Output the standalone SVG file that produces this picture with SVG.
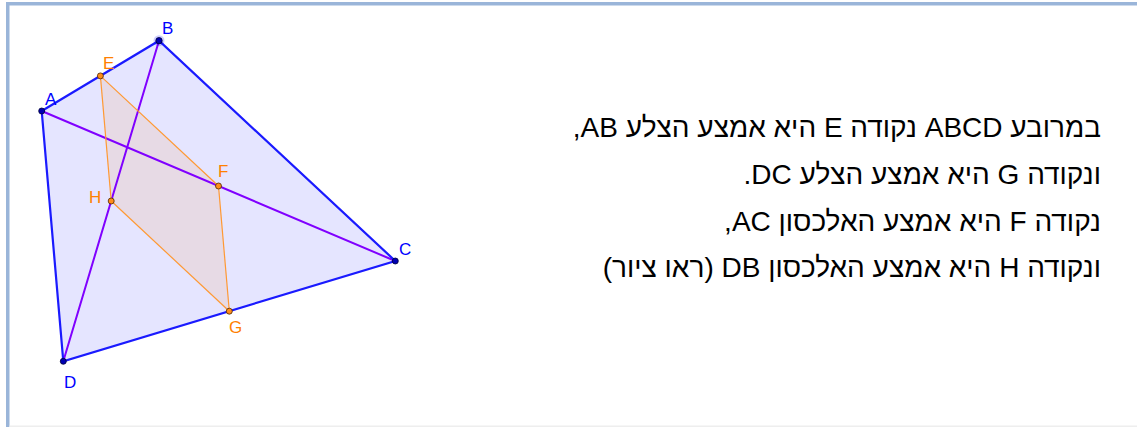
<svg xmlns="http://www.w3.org/2000/svg" width="1137" height="427" viewBox="0 0 1137 427">
<style>
.lbl{font-family:"Liberation Sans",Arial,sans-serif;font-size:17px}
.blue{fill:#0000ff}
.orange{fill:#ff8000}
.side{stroke:#1a1aff;stroke-width:2.2;fill:none;stroke-linecap:round}
.diag{stroke:#8000ff;stroke-width:2;fill:none;stroke-linecap:round}
.mid{stroke:#ff9933;stroke-width:1.2;fill:none}
.pb{fill:#0000b3;stroke:#000033;stroke-width:0.8}
.po{fill:#ff8c1a;stroke:#4d2600;stroke-width:0.8}
.body{font-family:"Liberation Sans",Arial,sans-serif;font-size:28px;fill:#000;direction:rtl;unicode-bidi:embed;text-anchor:start}
</style>
<rect x="0" y="0" width="1137" height="427" fill="#ffffff"/>
<rect x="6" y="2" width="1131" height="3.5" fill="#9ab5d9"/>
<rect x="6" y="2" width="3.5" height="425" fill="#9ab5d9"/>
<rect x="9.5" y="425.5" width="1127.5" height="1.5" fill="#eeeeee"/>
<g id="quad">
<polygon points="41.7,111 159,40.7 395.3,261 63.3,361.3" fill="#0000ff" fill-opacity="0.1" stroke="none"/>
<polygon points="100.4,75.9 218.5,186 229.3,311.2 111.2,201" fill="#ff8000" fill-opacity="0.1" stroke="none"/>
</g>
<g id="connectors">
<line class="diag" x1="41.7" y1="111" x2="395.3" y2="261"/>
<line class="diag" x1="159" y1="40.7" x2="63.3" y2="361.3"/>
<line class="mid" x1="100.4" y1="75.9" x2="218.5" y2="186"/>
<line class="mid" x1="218.5" y1="186" x2="229.3" y2="311.2"/>
<line class="mid" x1="229.3" y1="311.2" x2="111.2" y2="201"/>
<line class="mid" x1="111.2" y1="201" x2="100.4" y2="75.9"/>
<polygon class="side" points="41.7,111 159,40.7 395.3,261 63.3,361.3"/>
</g>
<g id="node-A"><circle class="pb" cx="41.7" cy="111" r="3"/><text class="lbl blue" x="45" y="105">A</text></g>
<g id="node-B"><circle cx="159" cy="40.7" r="5.5" fill="#0000ff" fill-opacity="0.2"/><circle class="pb" cx="159" cy="40.7" r="3.2"/><text class="lbl blue" x="162" y="34">B</text></g>
<g id="node-C"><circle class="pb" cx="395.3" cy="261" r="3"/><text class="lbl blue" x="399" y="255">C</text></g>
<g id="node-D"><circle class="pb" cx="63.3" cy="361.3" r="3"/><text class="lbl blue" x="64" y="388">D</text></g>
<g id="node-E"><circle class="po" cx="100.4" cy="75.9" r="3"/><text class="lbl orange" x="103" y="69">E</text></g>
<g id="node-F"><circle class="po" cx="218.5" cy="186" r="3"/><text class="lbl orange" x="218" y="177">F</text></g>
<g id="node-G"><circle class="po" cx="229.3" cy="311.2" r="3"/><text class="lbl orange" x="229" y="333">G</text></g>
<g id="node-H"><circle class="po" cx="111.2" cy="201" r="3"/><text class="lbl orange" x="89" y="203">H</text></g>
<g id="description">
<text class="body" x="1101" y="137">במרובע ABCD נקודה E היא אמצע הצלע AB,</text>
<text class="body" x="1101" y="184">ונקודה G היא אמצע הצלע DC.</text>
<text class="body" x="1101" y="231">נקודה F היא אמצע האלכסון AC,</text>
<text class="body" x="1101" y="277">ונקודה H היא אמצע האלכסון DB (ראו ציור)</text>
</g>
</svg>
